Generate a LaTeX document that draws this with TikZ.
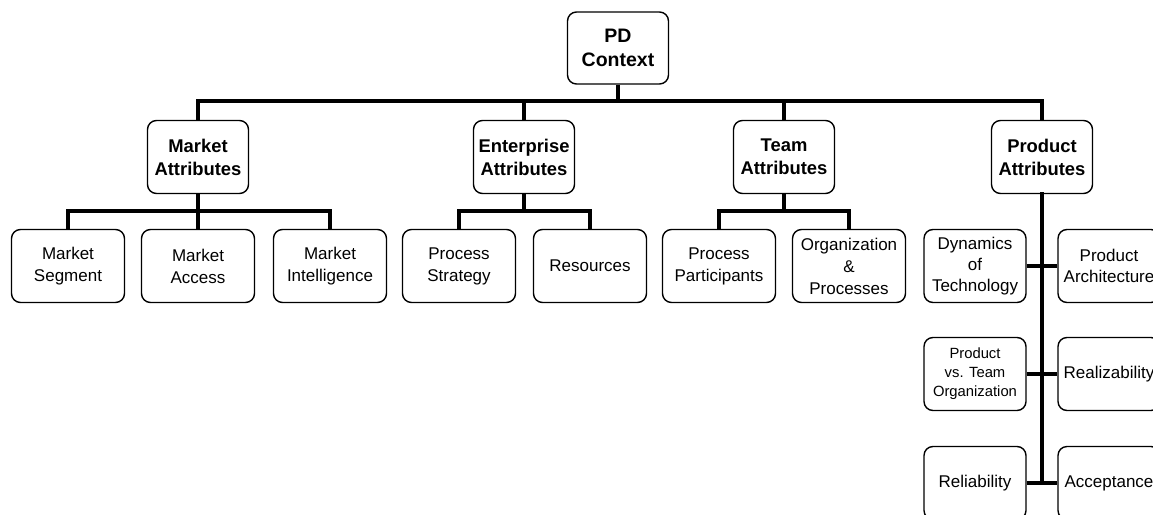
\documentclass[tikz,border=0pt]{standalone}
\usepackage{fontspec}
\setmainfont{Liberation Sans}
\begin{document}
\begin{tikzpicture}[x=1pt,y=-1pt,
  box/.style={draw,line width=1.4pt,rounded corners=9pt,align=center,inner sep=0pt,minimum height=73pt,fill=white},
  topbox/.style={box,minimum width=101pt,font=\fontsize{18.4}{23}\selectfont\bfseries},
  subbox/.style={box,minimum width=113pt,font=\fontsize{17}{22}\selectfont},
  pbox/.style={box,minimum width=102pt,font=\fontsize{17}{21}\selectfont},
  conn/.style={line width=4pt,line join=miter}]
\useasboundingbox (0,0) rectangle (1153,514);
\clip (0,0) rectangle (1153,514);
\fill[white] (0,0) rectangle (1153,514);

\coordinate (bus) at (0,101);
\coordinate (sbus) at (0,211);

% connectors
\node[topbox,minimum height=72pt,font=\fontsize{19.5}{24}\selectfont\bfseries] (pd) at (618,48) {PD\\Context};
\node[topbox] (ma) at (198,157) {Market\\Attributes};
\node[topbox] (ea) at (524,157) {Enterprise\\Attributes};
\node[topbox] (ta) at (784,157) {Team\\Attributes};
\node[topbox] (pa) at (1042,157) {Product\\Attributes};

\node[subbox] (ms) at (68,266) {Market\\Segment};
\node[subbox] (mac) at (198,266) {Market\\Access};
\node[subbox] (mi) at (330,266) {Market\\Intelligence};
\node[subbox] (ps) at (459,266) {Process\\Strategy};
\node[subbox] (res) at (590,266) {Resources};
\node[subbox] (pp) at (719,266) {Process\\Participants};
\node[subbox] (op) at (849,266) {Organization\\\&\\Processes};

\node[pbox] (dt) at (975,266) {Dynamics\\of\\Technology};
\node[pbox] (arch) at (1109,266) {Product\\Architecture};
\node[pbox,font=\fontsize{14.8}{19}\selectfont] (pvt) at (975,374) {Product\\vs. Team\\Organization};
\node[pbox] (real) at (1109,374) {Realizability};
\node[pbox] (rel) at (975,483) {Reliability};
\node[pbox] (acc) at (1109,483) {Acceptance};

% level 1
\draw[conn] (pd.south) -- (pd.south |- bus);
\draw[conn] (ma.north) |- (pa.north |- bus) -- (pa.north);
\draw[conn] (ea.north) -- (ea.north |- bus);
\draw[conn] (ta.north) -- (ta.north |- bus);

% market
\draw[conn] (ms.north) |- (mi.north |- sbus) -- (mi.north);
\draw[conn] (ma.south) -- (mac.north);
% enterprise
\draw[conn] (ps.north) |- (res.north |- sbus) -- (res.north);
\draw[conn] (ea.south) -- (ea.south |- sbus);
% team
\draw[conn] (pp.north) |- (op.north |- sbus) -- (op.north);
\draw[conn] (ta.south) -- (ta.south |- sbus);
% product
\draw[conn,line cap=rect] (pa.south) -- (pa.south |- rel.east);
\draw[conn] (dt.east) -- (arch.west);
\draw[conn] (pvt.east) -- (real.west);
\draw[conn] (rel.east) -- (acc.west);
\end{tikzpicture}
\end{document}
